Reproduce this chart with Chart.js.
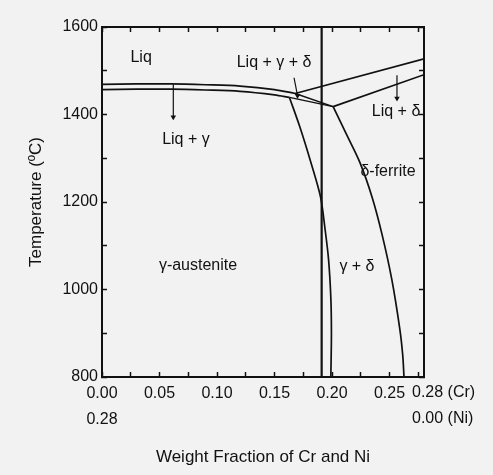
<!DOCTYPE html>
<html>
<head>
<meta charset="utf-8">
<title>Fe-Cr-Ni section</title>
<script src="https://cdn.jsdelivr.net/npm/chart.js@4.4.1/dist/chart.umd.min.js"></script>
<style>
  html, body { margin: 0; padding: 0; background: #f2f2f2; }
  #wrap { width: 493px; height: 475px; }
</style>
</head>
<body>
<div id="wrap"><canvas id="phase-chart" width="493" height="475"></canvas></div>
<script>
// ── Phase boundaries: [weight fraction Cr, temperature ºC] ───────────
var gammaLiquidus = [[0, 1469], [0.03, 1470], [0.06, 1470], [0.09, 1468], [0.12, 1465], [0.15, 1457], [0.168, 1448]];
var gammaSolidus = [[0, 1457], [0.03, 1458], [0.06, 1458], [0.09, 1456], [0.12, 1453], [0.15, 1445], [0.163, 1439]];
var deltaLiquidus = [[0.168, 1448], [0.28, 1527]];
var deltaSolidus = [[0.201, 1418], [0.28, 1491]];
var threePhaseTop = [[0.168, 1448], [0.201, 1418]];
var threePhaseBottom = [[0.163, 1439], [0.201, 1418]];
var gammaSolvus = [[0.163, 1439], [0.172, 1372], [0.181, 1296], [0.19, 1212], [0.194, 1137], [0.197, 1069], [0.199, 980], [0.1995, 900], [0.199, 800]];
var deltaSolvus = [[0.201, 1418], [0.2125, 1355], [0.2243, 1290], [0.235, 1210], [0.2435, 1126], [0.252, 1023], [0.259, 909], [0.2615, 850], [0.2626, 800]];
var sectionLine = [[0.191, 800], [0.191, 1600]];

// pointer lines from labels to narrow fields
var arrowLiqGamma = [[0.062, 1469], [0.062, 1394]];
var arrowLiqGammaDelta = [[0.167, 1484], [0.170, 1443]];
var arrowLiqDelta = [[0.2565, 1490], [0.2565, 1437]];

// ── Axis ticks ───────────────────────────────────────────────────────
var xMajor = [0, 0.05, 0.10, 0.15, 0.20, 0.25];
var xMajorLabels = [["0.00", "0.28"], "0.05", "0.10", "0.15", "0.20", "0.25"];
var xMinorStep = 0.025;
var xEndLabels = ["0.28 (Cr)", "0.00 (Ni)"];
var yMajor = [800, 1000, 1200, 1400, 1600];
var yMajorLabels = ["800", "1000", "1200", "1400", "1600"];
var yMinorStep = 100;

// ── Field labels ─────────────────────────────────────────────────────
var fieldNames = ["Liq", "Liq + γ + δ", "Liq + γ", "Liq + δ", "δ-ferrite", "γ-austenite", "γ + δ"];
var fieldX = [0.034, 0.1496, 0.073, 0.2557, 0.2487, 0.0835, 0.2217];
var fieldT = [1530, 1519, 1343, 1407, 1270, 1055, 1053];

(function () {
  "use strict";

  var INK = "#111";
  var FONT = "'Liberation Sans', Arial, sans-serif";

  function pts(list) {
    return list.map(function (p) { return { x: p[0], y: p[1] }; });
  }

  function boundary(list, width, tension) {
    return {
      data: pts(list),
      showLine: true,
      borderColor: INK,
      borderWidth: width,
      tension: tension,
      pointRadius: 0
    };
  }

  function pointer(list) {
    return {
      data: pts(list),
      showLine: true,
      borderColor: INK,
      borderWidth: 1.2,
      pointRadius: [0, 2],
      pointStyle: "triangle",
      rotation: 180,
      pointBackgroundColor: INK,
      pointBorderColor: INK
    };
  }

  function steps(min, max, step) {
    var out = [];
    for (var i = 0; min + i * step <= max + 1e-9; i++) {
      out.push({ value: +(min + i * step).toFixed(4) });
    }
    return out;
  }

  function majorLabel(majors, labels) {
    return function (value) {
      for (var i = 0; i < majors.length; i++) {
        if (Math.abs(majors[i] - value) < 1e-6) return labels[i];
      }
      return "";
    };
  }

  var frame = { display: true, color: INK, width: 2 };
  var inwardGrid = { drawOnChartArea: false, drawTicks: true, tickLength: -5, tickColor: INK, tickWidth: 1.5 };

  // region labels + composition note at right end of x axis
  var labelPlugin = {
    id: "fieldLabels",
    afterDatasetsDraw: function (chart) {
      var ctx = chart.ctx;
      var xs = chart.scales.x, ys = chart.scales.y;
      ctx.save();
      ctx.fillStyle = INK;
      ctx.font = "16px " + FONT;
      ctx.textAlign = "center";
      ctx.textBaseline = "middle";
      fieldNames.forEach(function (name, i) {
        ctx.fillText(name, xs.getPixelForValue(fieldX[i]), ys.getPixelForValue(fieldT[i]));
      });
      ctx.textAlign = "left";
      var x0 = xs.getPixelForValue(0.28) - 12;
      var yb = chart.chartArea.bottom;
      ctx.fillText(xEndLabels[0], x0, yb + 16);
      ctx.fillText(xEndLabels[1], x0, yb + 42);
      ctx.restore();
    }
  };

  new Chart(document.getElementById("phase-chart").getContext("2d"), {
    type: "scatter",
    data: {
      datasets: [
        boundary(gammaLiquidus, 1.7, 0.3),
        boundary(gammaSolidus, 1.7, 0.3),
        boundary(deltaLiquidus, 1.7, 0),
        boundary(deltaSolidus, 1.7, 0),
        boundary(threePhaseTop, 1.4, 0),
        boundary(threePhaseBottom, 1.4, 0),
        boundary(gammaSolvus, 1.7, 0.3),
        boundary(deltaSolvus, 1.7, 0.3),
        boundary(sectionLine, 2.2, 0),
        pointer(arrowLiqGamma),
        pointer(arrowLiqGammaDelta),
        pointer(arrowLiqDelta)
      ]
    },
    options: {
      responsive: false,
      animation: false,
      layout: { padding: { top: 27, right: 69, bottom: 0, left: 0 } },
      plugins: {
        legend: { display: false },
        tooltip: { enabled: false }
      },
      scales: {
        x: {
          type: "linear",
          position: "bottom",
          min: 0,
          max: 0.28,
          border: frame,
          grid: inwardGrid,
          afterBuildTicks: function (s) { s.ticks = steps(0, 0.275, xMinorStep); },
          afterFit: function (s) { s.height = 98; },
          ticks: {
            autoSkip: false,
            maxRotation: 0,
            padding: 8,
            color: INK,
            font: { family: FONT, size: 16, lineHeight: 1.65 },
            callback: majorLabel(xMajor, xMajorLabels)
          },
          title: {
            display: true,
            text: "Weight Fraction of Cr and Ni",
            color: INK,
            font: { family: FONT, size: 17 },
            padding: { top: 0, bottom: 7 }
          }
        },
        xTop: {
          type: "linear",
          position: "top",
          min: 0,
          max: 0.28,
          border: frame,
          grid: inwardGrid,
          afterBuildTicks: function (s) { s.ticks = steps(0, 0.275, xMinorStep); },
          afterFit: function (s) { s.height = 0; },
          ticks: { display: false }
        },
        y: {
          type: "linear",
          position: "left",
          min: 800,
          max: 1600,
          border: frame,
          grid: inwardGrid,
          afterBuildTicks: function (s) { s.ticks = steps(800, 1600, yMinorStep); },
          afterFit: function (s) { s.width = 102; },
          ticks: {
            autoSkip: false,
            padding: 9,
            color: INK,
            font: { family: FONT, size: 16 },
            callback: majorLabel(yMajor, yMajorLabels)
          },
          title: {
            display: true,
            text: "Temperature (ºC)",
            color: INK,
            font: { family: FONT, size: 17 },
            padding: { top: 26, bottom: 0 }
          }
        },
        yRight: {
          type: "linear",
          position: "right",
          min: 800,
          max: 1600,
          border: frame,
          grid: inwardGrid,
          afterBuildTicks: function (s) { s.ticks = steps(800, 1600, yMinorStep); },
          afterFit: function (s) { s.width = 0; },
          ticks: { display: false }
        }
      }
    },
    plugins: [labelPlugin]
  });
})();
</script>
</body>
</html>
